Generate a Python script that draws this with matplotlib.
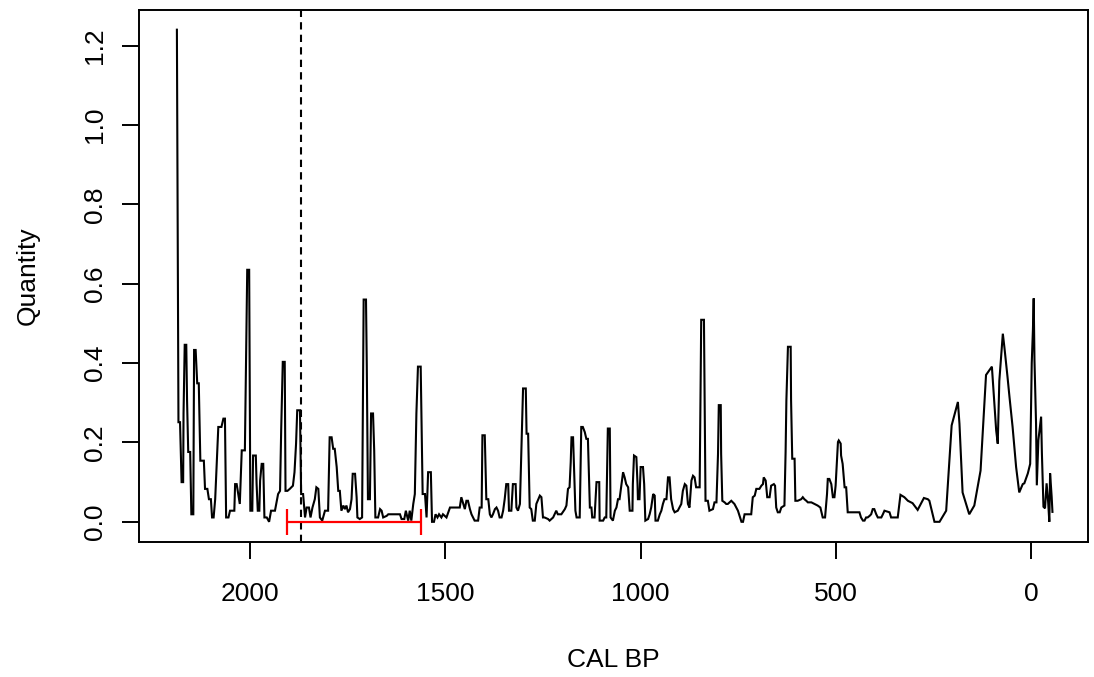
import matplotlib
matplotlib.use("Agg")
import matplotlib.pyplot as plt

plt.rcParams['font.family'] = ['Liberation Sans', 'DejaVu Sans']

# Calendar years BP (x) and quantity (y)
years = [
    2187, 2185, 2183, 2179, 2177, 2175, 2171, 2170, 2167, 2163, 2161, 2158, 2153, 2150,
    2145, 2143, 2139, 2135, 2131, 2127, 2118, 2115, 2109, 2105, 2100, 2097, 2093, 2089,
    2081, 2073, 2068, 2064, 2061, 2055, 2051, 2040, 2038, 2034, 2030, 2026, 2021, 2013,
    2010, 2007, 2002, 1999, 1994, 1992, 1985, 1983, 1980, 1976, 1974, 1970, 1966, 1963,
    1957, 1951, 1946, 1936, 1928, 1923, 1920, 1916, 1911, 1909, 1904, 1898, 1890, 1886,
    1882, 1879, 1872, 1869, 1864, 1859, 1855, 1849, 1845, 1840, 1834, 1830, 1825, 1821,
    1815, 1808, 1800, 1796, 1791, 1787, 1783, 1778, 1774, 1770, 1766, 1761, 1757, 1753,
    1749, 1744, 1740, 1737, 1731, 1727, 1725, 1719, 1713, 1711, 1709, 1703, 1701, 1698,
    1693, 1690, 1685, 1682, 1679, 1672, 1667, 1663, 1659, 1650, 1646, 1616, 1612, 1605,
    1601, 1595, 1591, 1587, 1582, 1578, 1574, 1570, 1563, 1561, 1558, 1552, 1548, 1544,
    1537, 1534, 1529, 1525, 1520, 1516, 1510, 1506, 1497, 1488, 1476, 1463, 1459, 1454,
    1450, 1446, 1442, 1437, 1433, 1425, 1416, 1412, 1407, 1405, 1399, 1397, 1395, 1390,
    1386, 1382, 1378, 1373, 1369, 1365, 1361, 1356, 1352, 1348, 1344, 1339, 1337, 1331,
    1327, 1320, 1318, 1314, 1309, 1305, 1301, 1294, 1292, 1288, 1284, 1280, 1276, 1271,
    1267, 1258, 1254, 1250, 1246, 1237, 1233, 1224, 1216, 1212, 1203, 1194, 1190, 1186,
    1182, 1179, 1177, 1173, 1171, 1167, 1164, 1156, 1152, 1148, 1143, 1139, 1135, 1130,
    1126, 1124, 1118, 1113, 1106, 1105, 1096, 1092, 1088, 1086, 1084, 1079, 1077, 1071,
    1066, 1062, 1058, 1054, 1049, 1045, 1041, 1037, 1032, 1028, 1021, 1020, 1017, 1011,
    1008, 1007, 1003, 1000, 994, 991, 988, 981, 977, 973, 968, 964, 962, 956,
    951, 947, 943, 939, 934, 930, 926, 922, 917, 913, 905, 896, 892, 887,
    883, 879, 875, 870, 866, 862, 858, 849, 847, 845, 838, 836, 834, 828,
    824, 815, 811, 806, 802, 800, 795, 794, 791, 785, 781, 777, 768, 764,
    760, 751, 742, 738, 734, 721, 717, 713, 708, 704, 696, 691, 687, 685,
    680, 676, 670, 666, 659, 656, 653, 649, 644, 640, 632, 629, 627, 623,
    616, 615, 612, 606, 604, 598, 589, 585, 581, 576, 572, 563, 555, 547,
    540, 534, 528, 523, 521, 517, 512, 508, 504, 501, 495, 493, 488, 487,
    483, 478, 474, 470, 461, 440, 436, 431, 427, 423, 419, 414, 410, 406,
    402, 397, 393, 384, 380, 376, 363, 359, 342, 335, 325, 316, 304, 291,
    275, 265, 261, 248, 235, 218, 204, 188, 184, 176, 159, 146, 130, 116,
    101, 97, 90, 86, 82, 73, 69, 61, 56, 48, 39, 31, 22, 18,
    9, 3, -1, -4, -6, -8, -12, -14, -18, -25, -27, -31, -35, -39,
    -43, -46, -48, -52, -54,
]
quantity = [
    1.24, 0.745, 0.251, 0.251, 0.176, 0.10, 0.10, 0.273, 0.446, 0.446, 0.306, 0.176, 0.176, 0.019,
    0.019, 0.433, 0.433, 0.349, 0.349, 0.154, 0.154, 0.083, 0.083, 0.057, 0.057, 0.011, 0.011, 0.057,
    0.239, 0.239, 0.26, 0.26, 0.011, 0.011, 0.028, 0.028, 0.095, 0.095, 0.07, 0.045, 0.18, 0.18,
    0.408, 0.635, 0.635, 0.028, 0.028, 0.167, 0.167, 0.095, 0.028, 0.028, 0.104, 0.146, 0.146, 0.011,
    0.011, 0.0, 0.028, 0.028, 0.07, 0.078, 0.235, 0.403, 0.403, 0.078, 0.078, 0.083, 0.091, 0.125,
    0.197, 0.281, 0.281, 0.07, 0.07, 0.011, 0.036, 0.036, 0.011, 0.036, 0.057, 0.087, 0.083, 0.011,
    0.003, 0.028, 0.028, 0.213, 0.213, 0.184, 0.184, 0.138, 0.078, 0.078, 0.028, 0.041, 0.032, 0.041,
    0.024, 0.032, 0.057, 0.121, 0.121, 0.062, 0.011, 0.007, 0.011, 0.281, 0.56, 0.56, 0.395, 0.057,
    0.057, 0.273, 0.273, 0.18, 0.011, 0.011, 0.032, 0.028, 0.011, 0.015, 0.019, 0.019, 0.007, 0.007,
    0.028, 0.003, 0.028, 0.003, 0.045, 0.07, 0.273, 0.391, 0.391, 0.264, 0.07, 0.07, 0.011, 0.125,
    0.125, 0.0, 0.0, 0.019, 0.011, 0.019, 0.011, 0.019, 0.011, 0.036, 0.036, 0.036, 0.062, 0.045,
    0.032, 0.053, 0.053, 0.032, 0.019, 0.003, 0.003, 0.036, 0.036, 0.218, 0.218, 0.133, 0.057, 0.057,
    0.019, 0.011, 0.019, 0.032, 0.036, 0.028, 0.011, 0.011, 0.028, 0.057, 0.095, 0.095, 0.028, 0.028,
    0.095, 0.095, 0.036, 0.028, 0.045, 0.188, 0.336, 0.336, 0.222, 0.222, 0.036, 0.032, 0.003, 0.003,
    0.045, 0.066, 0.062, 0.011, 0.011, 0.007, 0.003, 0.011, 0.028, 0.019, 0.019, 0.032, 0.041, 0.083,
    0.087, 0.15, 0.213, 0.213, 0.15, 0.028, 0.011, 0.011, 0.239, 0.239, 0.226, 0.209, 0.209, 0.036,
    0.036, 0.011, 0.011, 0.10, 0.10, 0.003, 0.003, 0.011, 0.011, 0.121, 0.235, 0.235, 0.011, 0.003,
    0.028, 0.036, 0.057, 0.057, 0.095, 0.125, 0.112, 0.095, 0.087, 0.028, 0.028, 0.095, 0.167, 0.163,
    0.095, 0.057, 0.057, 0.138, 0.138, 0.095, 0.003, 0.007, 0.019, 0.036, 0.07, 0.066, 0.003, 0.003,
    0.019, 0.028, 0.045, 0.057, 0.057, 0.112, 0.112, 0.057, 0.032, 0.024, 0.028, 0.045, 0.078, 0.095,
    0.091, 0.045, 0.036, 0.104, 0.116, 0.112, 0.087, 0.087, 0.298, 0.509, 0.509, 0.277, 0.053, 0.053,
    0.028, 0.032, 0.049, 0.049, 0.171, 0.294, 0.294, 0.171, 0.053, 0.049, 0.045, 0.045, 0.053, 0.049,
    0.045, 0.028, 0.0, 0.0, 0.019, 0.019, 0.019, 0.062, 0.066, 0.083, 0.083, 0.091, 0.095, 0.112,
    0.104, 0.062, 0.062, 0.091, 0.095, 0.091, 0.036, 0.024, 0.024, 0.036, 0.041, 0.176, 0.306, 0.441,
    0.441, 0.306, 0.159, 0.159, 0.053, 0.053, 0.057, 0.062, 0.057, 0.053, 0.049, 0.049, 0.045, 0.041,
    0.036, 0.011, 0.011, 0.07, 0.108, 0.108, 0.095, 0.062, 0.062, 0.091, 0.201, 0.205, 0.197, 0.167,
    0.146, 0.087, 0.087, 0.024, 0.024, 0.024, 0.011, 0.003, 0.003, 0.011, 0.011, 0.015, 0.019, 0.032,
    0.032, 0.019, 0.011, 0.011, 0.019, 0.028, 0.024, 0.011, 0.011, 0.068, 0.062, 0.053, 0.047, 0.03,
    0.06, 0.057, 0.053, 0.0, 0.0, 0.028, 0.243, 0.302, 0.247, 0.074, 0.019, 0.041, 0.129, 0.37,
    0.391, 0.332, 0.23, 0.197, 0.355, 0.474, 0.44, 0.365, 0.315, 0.239, 0.138, 0.074, 0.095, 0.097,
    0.122, 0.146, 0.40, 0.483, 0.563, 0.407, 0.249, 0.092, 0.206, 0.265, 0.173, 0.038, 0.034, 0.097,
    0.05, 0.0, 0.122, 0.063, 0.025,
]

marker_year = 1870          # dashed vertical reference line
range_start, range_end = 1904, 1561   # red interval bar
x_ticks = [2000, 1500, 1000, 500, 0]
y_ticks = [0.0, 0.2, 0.4, 0.6, 0.8, 1.0, 1.2]
y_tick_labels = ["0.0", "0.2", "0.4", "0.6", "0.8", "1.0", "1.2"]
x_limits = (2284, -145)

W, H = 1094, 677
fig = plt.figure(figsize=(W / 100, H / 100), dpi=100)
L, R, B, T = 139, 1088, 541.5, 10
ax = fig.add_axes([L / W, (H - B) / H, (R - L) / W, (B - T) / H])

ax.plot(years, quantity, color="black", lw=1.5, solid_joinstyle="miter")
ax.axvline(marker_year, color="black", lw=1.5, linestyle=(0, (3.5, 2.5)))

center = (range_start + range_end) / 2
ax.errorbar([center], [0.0], xerr=[[range_start - center], [center - range_end]],
            color="red", lw=1.6, capsize=9.4, capthick=1.6, fmt="none")

ax.set_xlim(*x_limits)
ymax = max(quantity)
ax.set_ylim(-0.04 * ymax, ymax * 1.04)

ax.set_xticks(x_ticks)
ax.set_xticklabels([str(t) for t in x_ticks])
ax.set_yticks(y_ticks)
ax.set_yticklabels(y_tick_labels)

fs = 19
ax.tick_params(axis="both", direction="out", length=12, width=1.4, labelsize=fs)
ax.tick_params(axis="x", pad=17.5)
ax.tick_params(axis="y", pad=11)
for lbl in ax.get_yticklabels():
    lbl.set_rotation(90)
    lbl.set_va("center")
    lbl.set_ha("right")

for s in ax.spines.values():
    s.set_linewidth(1.4)

ax.set_xlabel("CAL BP", fontsize=fs)
ax.set_ylabel("Quantity", fontsize=fs)
ax.xaxis.label.set_va("center")
ax.yaxis.label.set_va("center")
ax.xaxis.set_label_coords(0.5, (B - 660) / (B - T))
ax.yaxis.set_label_coords((28 - L) / (R - L), 0.5)

fig.savefig("out.png", dpi=100)
